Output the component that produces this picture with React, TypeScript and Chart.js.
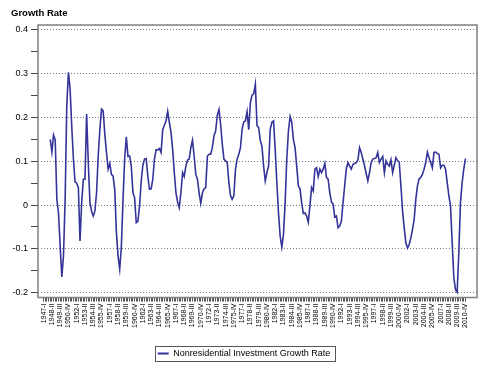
import React, { useEffect, useRef } from 'react';
import { Chart, registerables } from 'chart.js';

Chart.register(...registerables);

const seriesName = 'Nonresidential Investment Growth Rate';
const titleText = 'Growth Rate';
const lineColor = '#333399';

// Tick labels shown every 5th quarter, 1947-I .. 2010-IV
const tickLabels = [
  '1947-I', '1948-II', '1949-III', '1950-IV',
  '1952-I', '1953-II', '1954-III', '1955-IV',
  '1957-I', '1958-II', '1959-III', '1960-IV',
  '1962-I', '1963-II', '1964-III', '1965-IV',
  '1967-I', '1968-II', '1969-III', '1970-IV',
  '1972-I', '1973-II', '1974-III', '1975-IV',
  '1977-I', '1978-II', '1979-III', '1980-IV',
  '1982-I', '1983-II', '1984-III', '1985-IV',
  '1987-I', '1988-II', '1989-III', '1990-IV',
  '1992-I', '1993-II', '1994-III', '1995-IV',
  '1997-I', '1998-II', '1999-III', '2000-IV',
  '2002-I', '2003-II', '2004-III', '2005-IV',
  '2007-I', '2008-II', '2009-III', '2010-IV',
];

// y ticks (labels only at multiples of 0.1)
const yTicks = [-0.2, -0.15, -0.1, -0.05, 0, 0.05, 0.1, 0.15, 0.2, 0.25, 0.3, 0.35, 0.4];

// Quarterly growth rate, one row per year (I, II, III, IV), 1947..2010
const growthRate: (number | null)[] = [
  null, null, null, null, // 1947
  0.150, 0.121, 0.160, 0.149, // 1948
  0.013, -0.018, -0.094, -0.164, // 1949
  -0.117, 0.013, 0.227, 0.303, // 1950
  0.265, 0.180, 0.105, 0.053, // 1951
  0.050, 0.040, -0.082, 0.005, // 1952
  0.059, 0.059, 0.208, 0.097, // 1953
  0.005, -0.014, -0.025, -0.014, // 1954
  0.028, 0.112, 0.173, 0.219, // 1955
  0.215, 0.162, 0.120, 0.082, // 1956
  0.095, 0.070, 0.066, 0.036, // 1957
  -0.063, -0.117, -0.146, -0.094, // 1958
  0.013, 0.105, 0.156, 0.111, // 1959
  0.112, 0.089, 0.028, 0.017, // 1960
  -0.040, -0.037, -0.002, 0.055, // 1961
  0.091, 0.105, 0.106, 0.066, // 1962
  0.036, 0.037, 0.059, 0.105, // 1963
  0.126, 0.126, 0.129, 0.120, // 1964
  0.172, 0.182, 0.192, 0.214, // 1965
  0.189, 0.166, 0.127, 0.074, // 1966
  0.028, 0.007, -0.006, 0.028, // 1967
  0.074, 0.065, 0.089, 0.103, // 1968
  0.105, 0.131, 0.148, 0.112, // 1969
  0.070, 0.059, 0.028, 0.004, // 1970
  0.028, 0.037, 0.040, 0.112, // 1971
  0.116, 0.116, 0.131, 0.158, // 1972
  0.169, 0.205, 0.218, 0.185, // 1973
  0.139, 0.105, 0.101, 0.098, // 1974
  0.051, 0.021, 0.013, 0.021, // 1975
  0.082, 0.105, 0.116, 0.131, // 1976
  0.173, 0.190, 0.192, 0.213, // 1977
  0.172, 0.234, 0.251, 0.254, // 1978
  0.276, 0.181, 0.177, 0.147, // 1979
  0.134, 0.089, 0.055, 0.074, // 1980
  0.089, 0.173, 0.189, 0.192, // 1981
  0.127, 0.051, -0.018, -0.071, // 1982
  -0.096, -0.067, 0.005, 0.105, // 1983
  0.169, 0.202, 0.189, 0.150, // 1984
  0.131, 0.089, 0.044, 0.037, // 1985
  0.005, -0.019, -0.018, -0.025, // 1986
  -0.039, -0.002, 0.040, 0.032, // 1987
  0.082, 0.085, 0.065, 0.082, // 1988
  0.074, 0.082, 0.095, 0.063, // 1989
  0.059, 0.028, 0.007, 0.002, // 1990
  -0.027, -0.025, -0.052, -0.048, // 1991
  -0.037, 0.005, 0.044, 0.083, // 1992
  0.097, 0.089, 0.082, 0.093, // 1993
  0.095, 0.097, 0.103, 0.131, // 1994
  0.120, 0.105, 0.090, 0.072, // 1995
  0.055, 0.074, 0.097, 0.105, // 1996
  0.106, 0.108, 0.120, 0.097, // 1997
  0.105, 0.111, 0.074, 0.101, // 1998
  0.093, 0.089, 0.103, 0.074, // 1999
  0.091, 0.108, 0.101, 0.098, // 2000
  0.044, -0.014, -0.052, -0.086, // 2001
  -0.098, -0.090, -0.075, -0.056, // 2002
  -0.033, 0.013, 0.044, 0.060, // 2003
  0.063, 0.070, 0.082, 0.097, // 2004
  0.121, 0.108, 0.097, 0.085, // 2005
  0.120, 0.121, 0.118, 0.116, // 2006
  0.085, 0.091, 0.091, 0.082, // 2007
  0.051, 0.021, -0.002, -0.086, // 2008
  -0.166, -0.193, -0.199, -0.109, // 2009
  0.005, 0.051, 0.082, 0.106, // 2010
];

const framePlugin = {
  id: 'frameAndLegendBox',
  afterDraw(chart: any) {
    const { ctx, chartArea } = chart;
    ctx.save();
    ctx.strokeStyle = '#808080';
    ctx.lineWidth = 1.5;
    ctx.strokeRect(chartArea.left, chartArea.top, chartArea.right - chartArea.left, chartArea.bottom - chartArea.top);
    const lg = chart.legend;
    if (lg && lg.legendHitBoxes && lg.legendHitBoxes.length) {
      const hb = lg.legendHitBoxes[0];
      ctx.strokeStyle = '#555555';
      ctx.lineWidth = 1;
      ctx.strokeRect(Math.round(hb.left - 3) + 0.5, Math.round(hb.top - 3) + 0.5, Math.round(hb.width + 7), Math.round(hb.height + 6));
    }
    ctx.restore();
  },
};

export default function App() {
  const canvasRef = useRef<HTMLCanvasElement | null>(null);

  useEffect(() => {
    if (!canvasRef.current) return;
    Chart.defaults.font.family = "'Liberation Sans', Arial, sans-serif";
    Chart.defaults.color = '#000';
    const points = growthRate.map((v, i) => ({ x: i, y: v }));
    const chart = new Chart(canvasRef.current, {
      type: 'line',
      data: {
        datasets: [
          {
            label: seriesName,
            data: points as any,
            borderColor: lineColor,
            backgroundColor: lineColor,
            borderWidth: 1.6,
            pointRadius: 0,
            tension: 0,
            spanGaps: false,
          },
        ],
      },
      options: {
        animation: false,
        responsive: false,
        parsing: true as any,
        layout: { padding: { left: 11, right: 13, top: 0, bottom: 0 } },
        plugins: {
          title: {
            display: true,
            text: titleText,
            align: 'start',
            color: '#000',
            font: { size: 9.5, weight: 'bold' },
            padding: { top: 8, bottom: 5.6 },
          },
          legend: {
            display: true,
            position: 'bottom',
            labels: {
              boxWidth: 11,
              boxHeight: 2,
              padding: 3,
              color: '#000',
              font: { size: 9 },
              generateLabels: () => [
                {
                  text: seriesName,
                  fillStyle: lineColor,
                  strokeStyle: lineColor,
                  lineWidth: 0,
                  hidden: false,
                  datasetIndex: 0,
                } as any,
              ],
            },
          },
          tooltip: { enabled: false },
        },
        scales: {
          x: {
            type: 'linear',
            min: -3.4,
            max: 262,
            afterBuildTicks: (scale: any) => {
              scale.ticks = growthRate.map((_, i) => ({ value: i }));
            },
            afterFit: (scale: any) => {
              scale.height = 48.5;
            },
            ticks: {
              autoSkip: false,
              minRotation: 90,
              maxRotation: 90,
              padding: 2,
              color: '#000',
              font: { size: 7 },
              callback: (value: any) => (Number(value) % 5 === 0 ? tickLabels[Number(value) / 5] : ''),
            },
            grid: {
              drawOnChartArea: false,
              drawTicks: true,
              tickLength: 4,
              tickColor: '#555',
              tickWidth: 1,
            },
            border: { display: false },
          },
          y: {
            type: 'linear',
            min: -0.211,
            max: 0.411,
            afterBuildTicks: (scale: any) => {
              scale.ticks = yTicks.map((v) => ({ value: v }));
            },
            afterFit: (scale: any) => {
              scale.width = 27;
            },
            ticks: {
              autoSkip: false,
              padding: 3,
              color: '#000',
              font: { size: 9 },
              callback: (value: any) => {
                const r = Math.round(Number(value) * 100);
                if (r % 10 !== 0) return '';
                return String(r / 100);
              },
            },
            grid: {
              drawTicks: true,
              tickLength: 7,
              tickColor: '#444',
              lineWidth: 1,
              color: (ctx: any) => {
                const v = ctx.tick ? ctx.tick.value : 0;
                const r = Math.round(v * 100);
                return r % 10 === 0 ? '#777' : 'rgba(0,0,0,0)';
              },
            },
            border: { display: false, dash: [1, 2] },
          },
        },
      },
      plugins: [framePlugin],
    });
    return () => chart.destroy();
  }, []);

  return (
    <div style={{ position: 'fixed', left: 0, top: 0, width: 490, height: 368, background: '#fff' }}>
      <canvas ref={canvasRef} width={490} height={368} style={{ display: 'block' }} />
    </div>
  );
}
